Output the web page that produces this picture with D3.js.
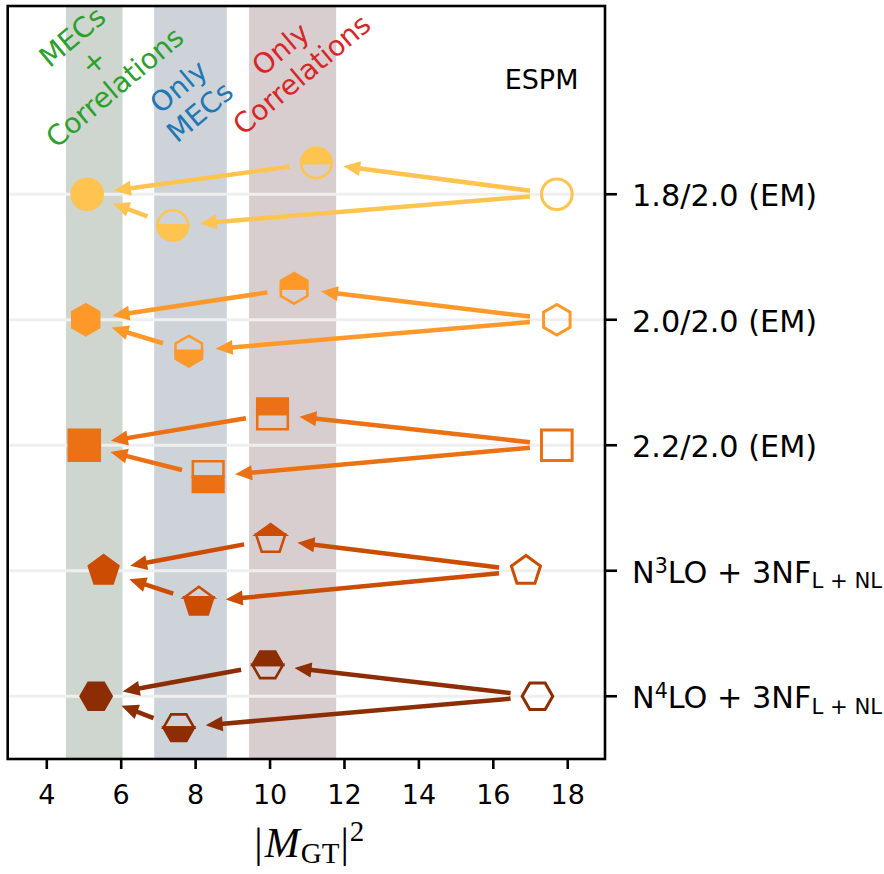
<!DOCTYPE html>
<html>
<head>
<meta charset="utf-8">
<script src="https://cdn.jsdelivr.net/npm/d3@7"></script>
<style>
  body { margin: 0; background: #fff; }
  svg { display: block; font-family: "DejaVu Sans", sans-serif; }
</style>
</head>
<body>
<svg id="chart" width="884" height="874"></svg>
<script>
// ---- data ----
const interactions = ["1.8/2.0 (EM)", "2.0/2.0 (EM)", "2.2/2.0 (EM)", "N^{3}LO + 3NF_{L + NL}", "N^{4}LO + 3NF_{L + NL}"];
const espm       = [17.72, 17.72, 17.72, 16.89, 17.20];   // ESPM (open markers)
const onlyCorr   = [11.26, 10.66, 10.08, 10.03,  9.95];   // only correlations (top half filled)
const onlyMecs   = [ 7.40,  7.83,  8.35,  8.10,  7.56];   // only MECs (bottom half filled)
const mecsCorr   = [ 5.10,  5.06,  5.02,  5.54,  5.34];   // MECs + correlations (filled)
const bandRanges = [[4.53, 6.05], [6.90, 8.85], [9.45, 11.79]];
const bandLabels = [["MECs", "+", "Correlations"], ["Only", "MECs"], ["Only", "Correlations"]];
const bandLabelPos = [[5.263, -1.056], [7.835, -0.759], [10.576, -1.058]];
const xTicks = [4, 6, 8, 10, 12, 14, 16, 18];

// ---- styles ----
const rowColors  = ["#fec44f", "#fe9929", "#ec7014", "#cc4c02", "#8c2d04"];
const rowShapes  = ["circle", "hexagon1", "square", "pentagon", "hexagon2"];
const bandFill   = ["#cfd6cf", "#cdd3d8", "#d8cecf"];
const bandText   = ["#2ca02c", "#1f77b4", "#d62728"];

const svg = d3.select("#chart");
const plot = { left: 7.7, right: 605, top: 6, bottom: 759 };

const x = d3.scaleLinear().domain([2.963, 19.015]).range([plot.left, plot.right]);
const y = d3.scaleLinear().domain([-1.5, 4.5]).range([plot.top, plot.bottom]);

// shaded bands
svg.append("g").selectAll("rect").data(bandRanges).join("rect")
  .attr("x", d => x(d[0])).attr("width", d => x(d[1]) - x(d[0]))
  .attr("y", plot.top).attr("height", plot.bottom - plot.top)
  .attr("fill", (d, i) => bandFill[i]);

// horizontal guide line per interaction
svg.append("g").selectAll("line").data(interactions).join("line")
  .attr("x1", plot.left).attr("x2", plot.right)
  .attr("y1", (d, i) => y(i)).attr("y2", (d, i) => y(i))
  .attr("stroke", "#efefef").attr("stroke-width", 3.2);

// band labels (rotated, multi-line)
const bl = svg.append("g").selectAll("g").data(bandLabels).join("g")
  .attr("transform", (d, i) => `translate(${x(bandLabelPos[i][0])},${y(bandLabelPos[i][1])}) rotate(-40)`);
bl.each(function (lines, i) {
  const lh = 33;
  d3.select(this).selectAll("text").data(lines).join("text")
    .attr("x", 0).attr("y", (t, k) => (k - (lines.length - 1) / 2) * lh)
    .attr("dy", "0.36em")
    .attr("text-anchor", "middle")
    .attr("font-size", 28)
    .attr("fill", bandText[i])
    .text(t => t);
});

svg.append("text")
  .attr("x", x(17.31)).attr("y", y(-0.918)).attr("dy", "0.36em")
  .attr("text-anchor", "middle").attr("font-size", 27).attr("fill", "#000")
  .text("ESPM");

// ---- arrows ----
const shrink = 27, headLen = 17, headW = 15, shaftW = 4.5;
function arrow(g, x0, y0, x1, y1, color) {
  const dx = x1 - x0, dy = y1 - y0, L = Math.hypot(dx, dy);
  const ux = dx / L, uy = dy / L, px = -uy, py = ux;
  const sx = x0 + ux * shrink, sy = y0 + uy * shrink;
  const tx = x1 - ux * shrink, ty = y1 - uy * shrink;
  const bx = tx - ux * headLen, by = ty - uy * headLen;
  g.append("line").attr("x1", sx).attr("y1", sy)
    .attr("x2", bx + ux * 2).attr("y2", by + uy * 2)
    .attr("stroke", color).attr("stroke-width", shaftW);
  g.append("path")
    .attr("d", `M${tx},${ty}L${bx + px * headW / 2},${by + py * headW / 2}L${bx - px * headW / 2},${by - py * headW / 2}Z`)
    .attr("fill", color);
}
const arrowsG = svg.append("g");
interactions.forEach((d, i) => {
  const c = rowColors[i];
  arrow(arrowsG, x(espm[i]), y(i), x(onlyCorr[i]), y(i - 0.25), c);
  arrow(arrowsG, x(espm[i]), y(i), x(onlyMecs[i]), y(i + 0.25), c);
  arrow(arrowsG, x(onlyCorr[i]), y(i - 0.25), x(mecsCorr[i]), y(i), c);
  arrow(arrowsG, x(onlyMecs[i]), y(i + 0.25), x(mecsCorr[i]), y(i), c);
});

// ---- markers ----
const R = 15.3, edgeW = 3;
function shapeVerts(shape, r) {
  if (shape === "square") return [[-r, -r], [r, -r], [r, r], [-r, r]];
  const n = shape === "pentagon" ? 5 : 6;
  const rot = shape === "hexagon2" ? 30 : 0;
  return d3.range(n).map(k => {
    const a = (90 + rot + k * 360 / n) * Math.PI / 180;
    return [r * Math.cos(a), -r * Math.sin(a)];
  });
}
function clipHalf(verts, c, keepTop) {
  const inside = p => keepTop ? p[1] <= c + 1e-9 : p[1] >= c - 1e-9;
  const out = [];
  for (let k = 0; k < verts.length; k++) {
    const a = verts[k], b = verts[(k + 1) % verts.length];
    const ia = inside(a), ib = inside(b);
    if (ia) out.push(a);
    if (ia !== ib) {
      const t = (c - a[1]) / (b[1] - a[1]);
      out.push([a[0] + t * (b[0] - a[0]), c]);
    }
  }
  return out;
}
const polyPath = v => "M" + v.map(p => p.join(",")).join("L") + "Z";
function markerPaths(shape, r, half) {
  // returns [mainPath, altPath]; half: null | "top" | "bottom"
  if (shape === "circle") {
    const full = `M${-r},0A${r},${r} 0 1 1 ${r},0A${r},${r} 0 1 1 ${-r},0Z`;
    if (!half) return [full, null];
    const top = `M${-r},0A${r},${r} 0 0 1 ${r},0Z`;
    const bot = `M${-r},0A${r},${r} 0 0 0 ${r},0Z`;
    return half === "top" ? [top, bot] : [bot, top];
  }
  const v = shapeVerts(shape, r);
  if (!half) return [polyPath(v), null];
  const c = shape === "pentagon" ? -r * Math.sin(18 * Math.PI / 180) : 0;
  const top = polyPath(clipHalf(v, c, true));
  const bot = polyPath(clipHalf(v, c, false));
  return half === "top" ? [top, bot] : [bot, top];
}
function drawMarker(g, cx, cy, shape, color, mode) {
  const m = g.append("g").attr("transform", `translate(${cx},${cy})`);
  if (mode === "open") {
    m.append("path").attr("d", markerPaths(shape, R, null)[0])
      .attr("fill", "none").attr("stroke", color).attr("stroke-width", edgeW)
      .attr("stroke-linejoin", "miter");
  } else if (mode === "filled") {
    m.append("path").attr("d", markerPaths(shape, R, null)[0])
      .attr("fill", color).attr("stroke", color).attr("stroke-width", edgeW)
      .attr("stroke-linejoin", "miter");
  } else {
    const [main, alt] = markerPaths(shape, R, mode);
    m.append("path").attr("d", alt).attr("fill", "none")
      .attr("stroke", color).attr("stroke-width", edgeW * 0.85).attr("stroke-linejoin", "miter");
    m.append("path").attr("d", main).attr("fill", color)
      .attr("stroke", color).attr("stroke-width", edgeW * 0.85).attr("stroke-linejoin", "miter");
  }
}
const markersG = svg.append("g");
interactions.forEach((d, i) => {
  const s = rowShapes[i], c = rowColors[i];
  drawMarker(markersG, x(espm[i]), y(i), s, c, "open");
  drawMarker(markersG, x(onlyCorr[i]), y(i - 0.25), s, c, "top");
  drawMarker(markersG, x(onlyMecs[i]), y(i + 0.25), s, c, "bottom");
  drawMarker(markersG, x(mecsCorr[i]), y(i), s, c, "filled");
});

// ---- frame ----
svg.append("rect")
  .attr("x", plot.left).attr("y", plot.top)
  .attr("width", plot.right - plot.left).attr("height", plot.bottom - plot.top)
  .attr("fill", "none").attr("stroke", "#000").attr("stroke-width", 2.6);

// ---- bottom axis ----
const xAxis = svg.append("g").attr("transform", `translate(0,${plot.bottom})`)
  .call(d3.axisBottom(x).tickValues(xTicks).tickSize(10).tickPadding(16).tickFormat(d3.format("d")));
xAxis.select(".domain").remove();
xAxis.selectAll(".tick line").attr("stroke", "#000").attr("stroke-width", 2.6);
xAxis.selectAll(".tick text").attr("font-size", 27).attr("font-family", "DejaVu Sans").attr("fill", "#000");

// x label |M_GT|^2
const xl = svg.append("text")
  .attr("x", (plot.left + plot.right) / 2 + 3).attr("y", 857)
  .attr("text-anchor", "middle")
  .attr("font-family", "Liberation Serif, DejaVu Serif, serif")
  .attr("font-size", 42).attr("fill", "#000");
xl.append("tspan").text("|");
xl.append("tspan").attr("font-style", "italic").attr("dx", 2).text("M");
xl.append("tspan").attr("font-size", 29).attr("dy", 6).attr("dx", 1).text("GT");
xl.append("tspan").attr("dy", -6).attr("dx", 1).text("|");
xl.append("tspan").attr("font-size", 29).attr("dy", -16).attr("dx", 1).text("2");

// ---- right axis (interaction labels) ----
const yAxis = svg.append("g");
yAxis.selectAll("line").data(interactions).join("line")
  .attr("x1", plot.right).attr("x2", plot.right + 12)
  .attr("y1", (d, i) => y(i)).attr("y2", (d, i) => y(i))
  .attr("stroke", "#000").attr("stroke-width", 2.6);

const rowFs = 30.3;
function richLabel(sel, str, fs) {
  const re = /\^\{([^}]*)\}|_\{([^}]*)\}|([^^_]+)/g;
  let m, shift = 0;
  while ((m = re.exec(str)) !== null) {
    let target = 0, size = fs, txt;
    if (m[1] !== undefined) { target = -0.33 * fs; size = 0.68 * fs; txt = m[1]; }
    else if (m[2] !== undefined) { target = 0.18 * fs; size = 0.7 * fs; txt = m[2]; }
    else { txt = m[3]; }
    sel.append("tspan").attr("dy", target - shift).attr("font-size", size)
      .style("white-space", "pre").text(txt);
    shift = target;
  }
}
yAxis.selectAll("text").data(interactions).join("text")
  .attr("x", plot.right + 27).attr("y", (d, i) => y(i) + 0.4 * rowFs)
  .attr("font-size", rowFs).attr("fill", "#000")
  .each(function (d) { richLabel(d3.select(this), d, rowFs); });
</script>
</body>
</html>
